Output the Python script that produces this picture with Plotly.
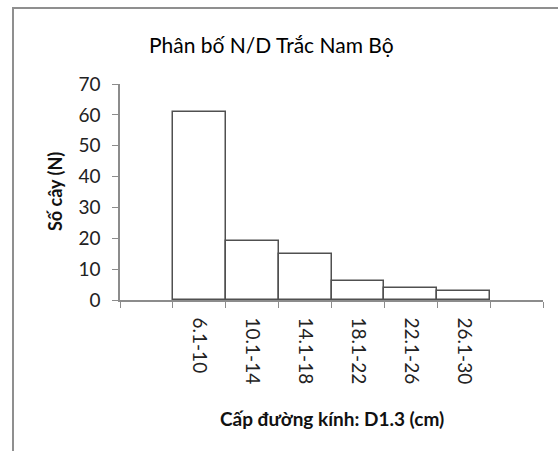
import plotly.graph_objects as go

categories = ["6.1-10", "10.1-14", "14.1-18", "18.1-22", "22.1-26", "26.1-30"]
counts = [61, 19, 15, 6, 4, 3]
y_ticks = [0, 10, 20, 30, 40, 50, 60, 70]

title_text = "Phân bố N/D Trắc Nam Bộ"
x_title = "Cấp đường kính: D1.3 (cm)"
y_title = "Số cây (N)"

W, H = 558, 451
ML, MR, MT, MB = 120, 15, 84, 151
PW, PH = W - ML - MR, H - MT - MB

def px_x(px):
    return (px - ML) / PW

def px_y(py):
    return (H - MB - py) / PH

# empty padding slots on both sides of the category axis
pad_left, pad_right = " ", "  "
cat_order = [pad_left] + categories + [pad_right]

FONT = "Lato"
AXIS_COLOR = "#8c8c8c"

fig = go.Figure()
fig.add_trace(go.Bar(
    x=categories, y=counts,
    marker=dict(color="white", line=dict(color="#505050", width=1.5)),
    showlegend=False,
))

fig.update_layout(
    width=W, height=H,
    margin=dict(l=ML, r=MR, t=MT, b=MB),
    paper_bgcolor="white", plot_bgcolor="white",
    bargap=0,
    font=dict(family=FONT, color="#222222"),
)

fig.update_xaxes(
    type="category", categoryorder="array", categoryarray=cat_order,
    range=[-0.5, len(cat_order) - 0.5],
    tickson="boundaries", ticks="outside", ticklen=6, tickcolor=AXIS_COLOR,
    tickangle=90, tickfont=dict(size=19, family=FONT, color="#222222"),
    ticklabelstandoff=12,
    showline=True, linecolor=AXIS_COLOR, linewidth=1.5,
    showgrid=False, zeroline=False,
)
fig.update_yaxes(
    range=[0, 70], tickvals=y_ticks,
    ticks="outside", ticklen=6, tickcolor=AXIS_COLOR,
    tickfont=dict(size=19, family=FONT, color="#222222"),
    ticklabelstandoff=8,
    showline=True, linecolor=AXIS_COLOR, linewidth=1.5,
    showgrid=False, zeroline=False,
)

# titles
fig.add_annotation(text=title_text, xref="paper", yref="paper",
                   x=px_x(271), y=px_y(45), xanchor="center", yanchor="middle",
                   showarrow=False, font=dict(size=21, family=FONT, color="#000000"))
fig.add_annotation(text="<b>" + x_title + "</b>", xref="paper", yref="paper",
                   x=px_x(331.5), y=px_y(418), xanchor="center", yanchor="middle",
                   showarrow=False, font=dict(size=19, family=FONT, color="#111111"))
fig.add_annotation(text="<b>" + y_title + "</b>", xref="paper", yref="paper",
                   x=px_x(55), y=px_y(192), xanchor="center", yanchor="middle",
                   textangle=-90, showarrow=False,
                   font=dict(size=18, family=FONT, color="#111111"))

# outer chart frame (extends past right and bottom edges)
fig.add_shape(type="rect", xref="paper", yref="paper",
              x0=px_x(13), x1=px_x(W + 20), y0=px_y(H + 20), y1=px_y(8),
              line=dict(color="#8f8f8f", width=2), fillcolor="rgba(0,0,0,0)", layer="below")

fig.write_html("out.html")
